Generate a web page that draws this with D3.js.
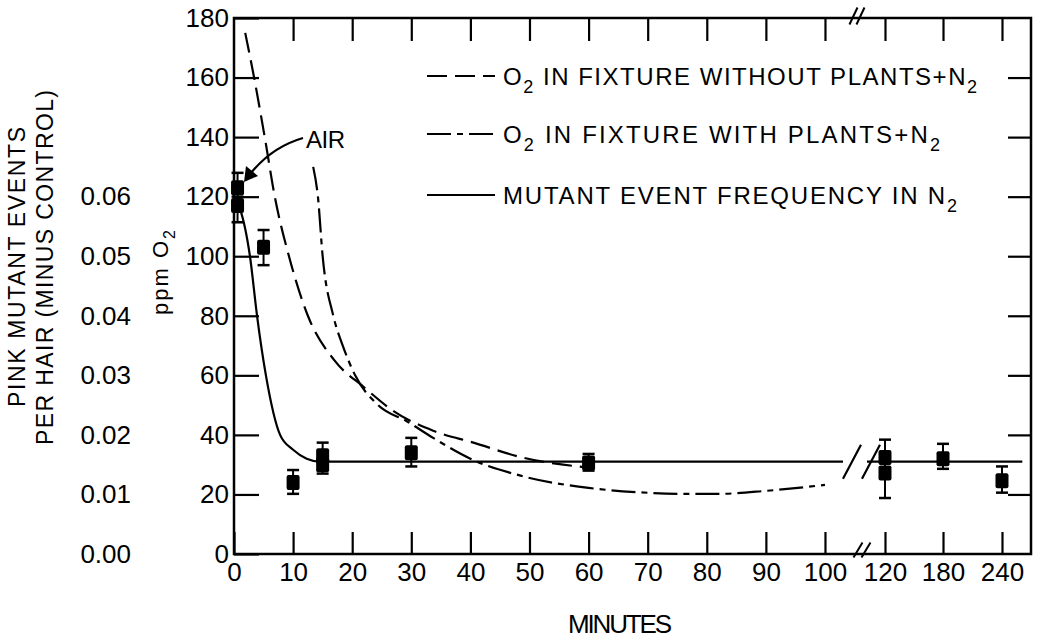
<!DOCTYPE html>
<html>
<head>
<meta charset="utf-8">
<script src="https://cdn.jsdelivr.net/npm/d3@7"></script>
<style>
	body { margin: 0; background: #fff; }
	text { font-family: "Liberation Sans", Arial, sans-serif; fill: #000; }
</style>
</head>
<body>
<div id="chart"></div>
<script>
// ---------- DATA ----------
const xTicks = [0, 10, 20, 30, 40, 50, 60, 70, 80, 90, 100, 120, 180, 240];
const ppmTicks = [0, 20, 40, 60, 80, 100, 120, 140, 160, 180];
const mutTicks = [0, 0.01, 0.02, 0.03, 0.04, 0.05, 0.06];

// O2 in fixture without plants + N2 (ppm)
const noPlantTime = [1.9, 3.4, 5.2, 6.9, 9.3, 12.5, 17, 22, 27, 33.7, 40.5, 49, 60];
const noPlantPpm = [175, 160, 140, 120, 100, 80, 65, 56, 48, 41.4, 37.4, 32.3, 29];

// O2 in fixture with plants + N2 (ppm)
const plantTime = [13.4, 14.2, 15, 16.8, 18.4, 20.5, 24.4, 29.3, 33.7, 40, 48.5, 60, 68, 76, 82, 90, 100];
const plantPpm = [130, 120, 100, 80, 70, 60, 50, 44.5, 39, 32, 26.3, 22.2, 20.8, 20.2, 20.2, 21.2, 23.2];

// mutant event frequency fit (events per hair), two pieces either side of the break
const fitTime = [0.6, 1, 2.7, 3.9, 5.4, 7.8, 10, 12.3, 14.6, 30, 60, 106];
const fitValue = [0.059, 0.058, 0.05, 0.04, 0.03, 0.02, 0.0175, 0.016, 0.0155, 0.0155, 0.0155, 0.0155];
const fitTime2 = [114, 261];
const fitValue2 = [0.0155, 0.0155];

// measured mutant events with error bars
const mutTime = [0.6, 0.6, 5, 10, 15, 15, 30, 60, 120, 120, 180, 240];
const mutMean = [0.0615, 0.0585, 0.0515, 0.012, 0.0165, 0.015, 0.017, 0.0153, 0.0162, 0.0136, 0.016, 0.0123];
const mutLow = [0.059, 0.0557, 0.0485, 0.0101, 0.0155, 0.0135, 0.0147, 0.014, 0.0145, 0.0094, 0.0143, 0.0103];
const mutHigh = [0.064, 0.06, 0.0544, 0.0141, 0.0187, 0.016, 0.0195, 0.0168, 0.0192, 0.0155, 0.0185, 0.0147];

const legendLabels = [
	[["O", 0], ["2", 1], [" IN FIXTURE WITHOUT PLANTS+N", 0], ["2", 1]],
	[["O", 0], ["2", 1], [" IN FIXTURE WITH PLANTS+N", 0], ["2", 1]],
	[["MUTANT EVENT FREQUENCY IN N", 0], ["2", 1]],
];

// ---------- CHART ----------
const width = 1039;
const height = 644;
const plot = { left: 234, right: 1031, top: 18, bottom: 554 };
const pw = plot.right - plot.left;

const svg = d3
	.select("#chart")
	.append("svg")
	.attr("width", width)
	.attr("height", height);

// broken time axis: 0-100 linear, then 120, 180, 240 evenly spaced
const xScale = d3
	.scaleLinear()
	.domain([0, 100, 120, 180, 240, 270])
	.range([0, 0.7415, 0.8168, 0.8896, 0.9636, 1].map((f) => plot.left + f * pw));
const yScale = d3.scaleLinear().domain([0, 180]).range([plot.bottom, plot.top]);
const yMut = d3.scaleLinear().domain([0, 0.09]).range([plot.bottom, plot.top]);

function fitWidth(sel, target) {
	const n = sel.text().length;
	const cur = sel.node().getComputedTextLength();
	sel.attr("letter-spacing", (target - cur) / Math.max(n - 1, 1));
}

function styleAxis(g) {
	g.select(".domain").remove();
	g.selectAll(".tick line").attr("stroke", "#000").attr("stroke-width", 2.2);
	g.selectAll(".tick text")
		.attr("font-family", '"Liberation Sans", Arial, sans-serif')
		.attr("font-size", 26)
		.attr("fill", "#000");
}

// bottom axis with labels
svg.append("g")
	.attr("transform", `translate(0, ${plot.bottom})`)
	.call(
		d3.axisBottom(xScale).tickValues(xTicks).tickSizeInner(-22).tickSizeOuter(0).tickPadding(9)
	)
	.call(styleAxis);

// top axis, ticks only
svg.append("g")
	.attr("transform", `translate(0, ${plot.top})`)
	.call(
		d3.axisTop(xScale).tickValues(xTicks.slice(1)).tickSizeInner(-23).tickSizeOuter(0).tickFormat("")
	)
	.call(styleAxis);

// left ppm axis
svg.append("g")
	.attr("transform", `translate(${plot.left}, 0)`)
	.call(d3.axisLeft(yScale).tickValues(ppmTicks).tickSizeInner(-25).tickSizeOuter(0).tickPadding(5))
	.call(styleAxis);

// right axis, ticks only
svg.append("g")
	.attr("transform", `translate(${plot.right}, 0)`)
	.call(
		d3.axisRight(yScale).tickValues(ppmTicks.slice(1, -1)).tickSizeInner(-23).tickSizeOuter(0).tickFormat("")
	)
	.call(styleAxis);

// secondary (mutant events) labels
svg.append("g")
	.attr("transform", `translate(131, 0)`)
	.call(d3.axisLeft(yMut).tickValues(mutTicks).tickFormat(d3.format(".2f")).tickSize(0).tickPadding(0))
	.call(styleAxis);

// frame
svg.append("rect")
	.attr("x", plot.left)
	.attr("y", plot.top)
	.attr("width", pw)
	.attr("height", plot.bottom - plot.top)
	.attr("fill", "none")
	.attr("stroke", "#000")
	.attr("stroke-width", 2.5);

// axis break marks
function slashes(x, y, h, w, gap, sw) {
	[0, gap].forEach((o) => {
		svg.append("line")
			.attr("x1", x + o - w / 2)
			.attr("y1", y + h / 2)
			.attr("x2", x + o + w / 2)
			.attr("y2", y - h / 2)
			.attr("stroke", "#000")
			.attr("stroke-width", sw);
	});
}
slashes(xScale(109.5), plot.top - 2, 17, 8, 7, 2);
slashes(xScale(111), plot.bottom - 4, 15, 9, 8, 2);

// curves
const ppmLine = d3
	.line()
	.x((d) => xScale(d[0]))
	.y((d) => yScale(d[1]))
	.curve(d3.curveMonotoneX);
const mutLine = d3
	.line()
	.x((d) => xScale(d[0]))
	.y((d) => yMut(d[1]))
	.curve(d3.curveMonotoneX);

svg.append("path")
	.datum(d3.zip(noPlantTime, noPlantPpm))
	.attr("d", ppmLine)
	.attr("fill", "none")
	.attr("stroke", "#000")
	.attr("stroke-width", 2.2)
	.attr("stroke-dasharray", "20,8");

svg.append("path")
	.datum(d3.zip(plantTime, plantPpm))
	.attr("d", ppmLine)
	.attr("fill", "none")
	.attr("stroke", "#000")
	.attr("stroke-width", 2.2)
	.attr("stroke-dasharray", "24,6,6,6");

[d3.zip(fitTime, fitValue), d3.zip(fitTime2, fitValue2)].forEach((seg) => {
	svg.append("path")
		.datum(seg)
		.attr("d", mutLine)
		.attr("fill", "none")
		.attr("stroke", "#000")
		.attr("stroke-width", 2.2);
});

// break on the fitted line
slashes(xScale(109), yMut(0.0155), 34, 18, 19, 2.2);

// error bars and points
const pts = mutTime.map((t, i) => ({ t, m: mutMean[i], lo: mutLow[i], hi: mutHigh[i] }));
const ptG = svg.append("g").selectAll("g").data(pts).enter().append("g");
ptG.append("line")
	.attr("x1", (d) => xScale(d.t))
	.attr("x2", (d) => xScale(d.t))
	.attr("y1", (d) => yMut(d.lo))
	.attr("y2", (d) => yMut(d.hi))
	.attr("stroke", "#000")
	.attr("stroke-width", 2);
["lo", "hi"].forEach((k) => {
	ptG.append("line")
		.attr("x1", (d) => xScale(d.t) - 6)
		.attr("x2", (d) => xScale(d.t) + 6)
		.attr("y1", (d) => yMut(d[k]))
		.attr("y2", (d) => yMut(d[k]))
		.attr("stroke", "#000")
		.attr("stroke-width", 2.5);
});
ptG.append("rect")
	.attr("x", (d) => xScale(d.t) - 6.5)
	.attr("y", (d) => yMut(d.m) - 7.5)
	.attr("width", 13)
	.attr("height", 15)
	.attr("rx", 2)
	.attr("fill", "#000");

// legend
const legendDash = ["20,8", "24,6,6,6", null];
const legendRows = [76, 134, 195];
legendLabels.forEach((parts, i) => {
	const y = legendRows[i];
	svg.append("line")
		.attr("x1", 427)
		.attr("x2", 495)
		.attr("y1", y)
		.attr("y2", y)
		.attr("stroke", "#000")
		.attr("stroke-width", 2.2)
		.attr("stroke-dasharray", legendDash[i]);
	const t = svg.append("text").attr("x", 503).attr("y", y + 8.5).attr("font-size", 24);
	let shift = 0;
	parts.forEach(([s, sub]) => {
		const want = sub ? 8 : 0;
		t.append("tspan")
			.text(s)
			.attr("font-size", sub ? 18 : 24)
			.attr("dy", want - shift);
		shift = want;
	});
	fitWidth(t, [474, 437, 454][i]);
});

// AIR annotation
const air = svg.append("text").attr("x", 306).attr("y", 148).attr("font-size", 24).text("AIR");
fitWidth(air, 39);
svg.append("path")
	.attr("d", "M303,138 Q272,147 251,173")
	.attr("fill", "none")
	.attr("stroke", "#000")
	.attr("stroke-width", 2.2);
svg.append("path").attr("d", "M244,182 L246,166 L258,176 Z").attr("fill", "#000");

// axis titles
const xt = svg
	.append("text")
	.attr("x", 568)
	.attr("y", 633)
	.attr("font-size", 26)
	.text("MINUTES");
fitWidth(xt, 104);

const ppmTitle = svg
	.append("text")
	.attr("transform", "translate(168, 315) rotate(-90)")
	.attr("font-size", 22);
ppmTitle.append("tspan").text("ppm O");
ppmTitle.append("tspan").text("2").attr("font-size", 16).attr("dy", 7);
fitWidth(ppmTitle, 85);

const mt1 = svg
	.append("text")
	.attr("transform", "translate(25, 407) rotate(-90)")
	.attr("font-size", 23)
	.text("PINK MUTANT EVENTS");
fitWidth(mt1, 280);
const mt2 = svg
	.append("text")
	.attr("transform", "translate(53, 445) rotate(-90)")
	.attr("font-size", 23)
	.text("PER HAIR (MINUS CONTROL)");
fitWidth(mt2, 355);
</script>
</body>
</html>
